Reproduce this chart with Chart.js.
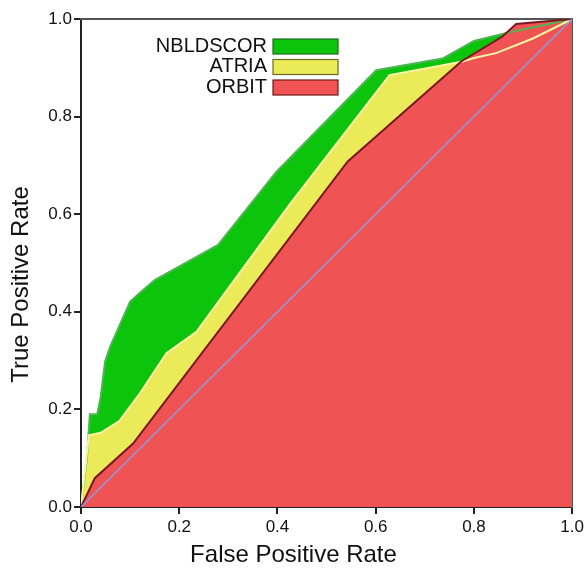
<!DOCTYPE html>
<html>
<head>
<meta charset="utf-8">
<script src="https://cdn.jsdelivr.net/npm/chart.js@4.4.0/dist/chart.umd.min.js"></script>
<style>
  html, body { margin: 0; padding: 0; background: #fff; }
  #wrap { width: 587px; height: 569px; }
</style>
</head>
<body>
<div id="wrap"><canvas id="rocChart" width="587" height="569"></canvas></div>
<script>
// ROC curves
const seriesLabels = ['NBLDSCOR', 'ATRIA', 'ORBIT'];

const nbldscorFpr = [0, 0.012, 0.018, 0.033, 0.040, 0.049, 0.060, 0.100, 0.127, 0.150, 0.279, 0.398, 0.601, 0.736, 0.800, 0.860, 1.0];
const nbldscorTpr = [0, 0.100, 0.190, 0.190, 0.225, 0.298, 0.330, 0.421, 0.445, 0.465, 0.537, 0.687, 0.895, 0.919, 0.955, 0.970, 1.0];

const atriaFpr = [0, 0.016, 0.040, 0.078, 0.120, 0.174, 0.235, 0.425, 0.628, 0.777, 0.800, 0.845, 0.920, 1.0];
const atriaTpr = [0, 0.147, 0.152, 0.176, 0.233, 0.315, 0.359, 0.620, 0.885, 0.913, 0.920, 0.930, 0.960, 1.0];

const orbitFpr = [0, 0.028, 0.106, 0.543, 0.774, 0.858, 0.886, 1.0];
const orbitTpr = [0, 0.059, 0.130, 0.708, 0.913, 0.964, 0.990, 1.0];

const chanceFpr = [0, 1];
const chanceTpr = [0, 1];

const tickLabels = ['0.0', '0.2', '0.4', '0.6', '0.8', '1.0'];

function toPoints(xs, ys) {
  return xs.map((x, i) => ({ x: x, y: ys[i] }));
}

const fontFamily = "'Liberation Sans', Arial, sans-serif";

// legend drawn inside the plot, text left of the box
const insideLegend = {
  id: 'insideLegend',
  afterDraw(chart) {
    const ctx = chart.ctx;
    ctx.save();
    ctx.font = '20px ' + fontFamily;
    ctx.textAlign = 'right';
    ctx.textBaseline = 'middle';
    seriesLabels.forEach((label, i) => {
      const ds = chart.data.datasets.find(d => d.label === label);
      const top = 39 + i * 20.5;
      ctx.fillStyle = ds.backgroundColor;
      ctx.fillRect(273, top, 65, 15);
      ctx.strokeStyle = ds.legendStroke;
      ctx.lineWidth = 1.2;
      ctx.strokeRect(273, top, 65, 15);
      ctx.fillStyle = '#111';
      ctx.fillText(label, 267, top + 7);
    });
    ctx.restore();
  }
};

const ctx = document.getElementById('rocChart').getContext('2d');

let myChart = new Chart(ctx, {
  type: 'line',
  data: {
    datasets: [
      {
        label: 'Reference',
        data: toPoints(chanceFpr, chanceTpr),
        borderColor: '#8d9be0',
        borderWidth: 1.5,
        fill: false,
        order: 0
      },
      {
        label: seriesLabels[2],
        data: toPoints(orbitFpr, orbitTpr),
        backgroundColor: '#ef5353',
        borderColor: '#7a1822',
        legendStroke: '#6e1a1a',
        borderWidth: 2,
        fill: 'origin',
        order: 1
      },
      {
        label: seriesLabels[1],
        data: toPoints(atriaFpr, atriaTpr),
        backgroundColor: '#ebeb5a',
        borderColor: '#fbf5a6',
        legendStroke: '#6b6b20',
        borderWidth: 2,
        fill: 'origin',
        order: 2
      },
      {
        label: seriesLabels[0],
        data: toPoints(nbldscorFpr, nbldscorTpr),
        backgroundColor: '#0cc40c',
        borderColor: '#4db653',
        legendStroke: '#1f6a1f',
        borderWidth: 2,
        fill: 'origin',
        order: 3
      }
    ]
  },
  options: {
    responsive: false,
    animation: false,
    layout: { padding: 0 },
    elements: {
      point: { radius: 0, hoverRadius: 0 },
      line: { tension: 0 }
    },
    scales: {
      x: {
        type: 'linear',
        position: 'bottom',
        min: 0,
        max: 1,
        ticks: {
          stepSize: 0.2,
          padding: 3,
          color: '#111',
          font: { family: fontFamily, size: 17 },
          maxRotation: 0,
          callback: (v) => tickLabels[Math.round(v * 5)]
        },
        grid: { drawOnChartArea: false, drawTicks: true, tickLength: 7, color: '#222', lineWidth: 2 },
        border: { display: true, color: '#222', width: 2 },
        afterFit: (scale) => { scale.height = 34; }
      },
      y: {
        type: 'linear',
        position: 'left',
        min: 0,
        max: 1,
        ticks: {
          stepSize: 0.2,
          padding: 2,
          color: '#111',
          font: { family: fontFamily, size: 17 },
          callback: (v) => tickLabels[Math.round(v * 5)]
        },
        grid: { drawOnChartArea: false, drawTicks: true, tickLength: 7, color: '#222', lineWidth: 2 },
        border: { display: true, color: '#222', width: 2 },
        afterFit: (scale) => { scale.width = 46; }
      },
      x2: {
        type: 'linear',
        position: 'top',
        min: 0,
        max: 1,
        ticks: { display: false },
        grid: { drawOnChartArea: false, drawTicks: false },
        border: { display: true, color: '#555', width: 2 },
        afterFit: (scale) => { scale.height = 19; }
      },
      y2: {
        type: 'linear',
        position: 'right',
        min: 0,
        max: 1,
        ticks: { display: false },
        grid: { drawOnChartArea: false, drawTicks: false },
        border: { display: true, color: '#555', width: 2 },
        afterFit: (scale) => { scale.width = 14; }
      }
    },
    plugins: {
      legend: { display: false },
      tooltip: { enabled: false },
      filler: { drawTime: 'beforeDatasetsDraw' },
      title: {
        display: true,
        position: 'bottom',
        text: 'False Positive Rate',
        color: '#111',
        font: { family: fontFamily, size: 24, weight: 'normal', lineHeight: 1.15 },
        padding: { top: 0.4, bottom: 0 }
      },
      subtitle: {
        display: true,
        position: 'left',
        text: 'True Positive Rate',
        color: '#111',
        font: { family: fontFamily, size: 24, weight: 'normal', lineHeight: 1.15 },
        padding: { top: 7.4, bottom: 0 }
      }
    }
  },
  plugins: [insideLegend]
});
</script>
</body>
</html>
